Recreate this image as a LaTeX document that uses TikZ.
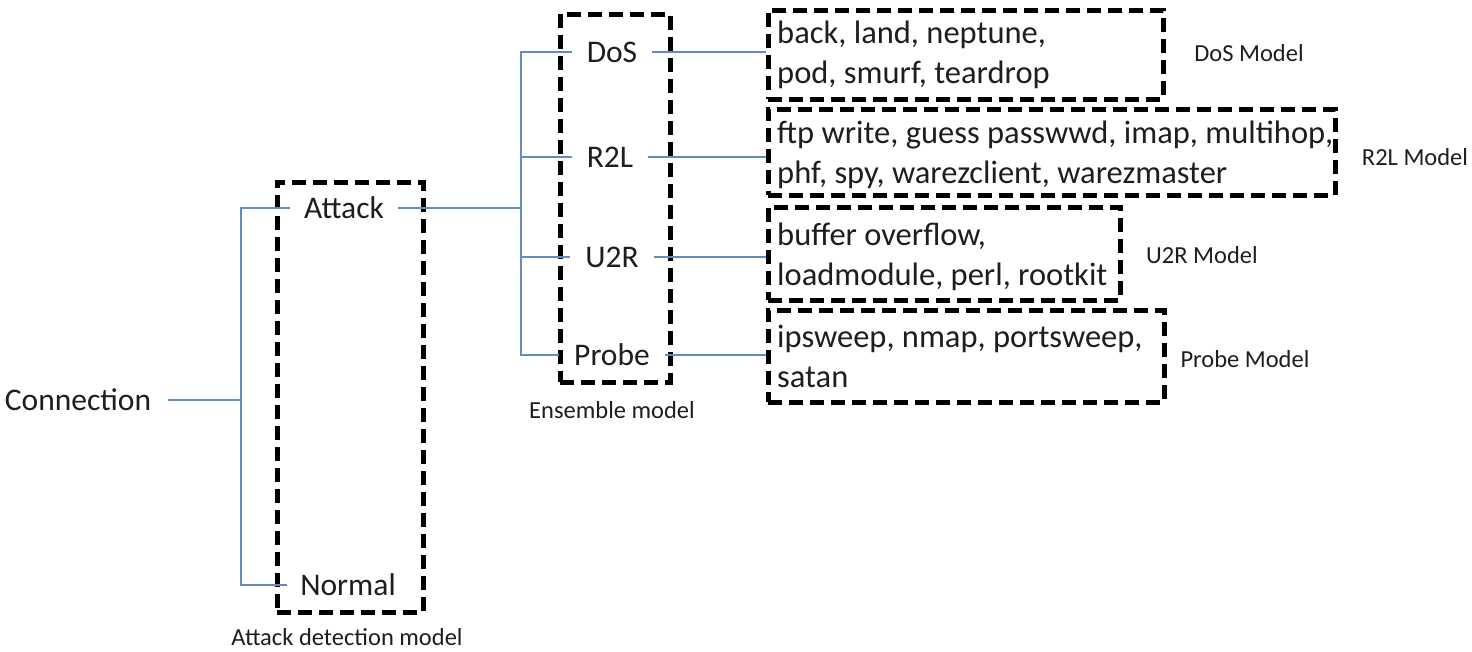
\documentclass[tikz,border=0pt]{standalone}
\usepackage{fontspec}
\setmainfont{Carlito}
\definecolor{linkblue}{RGB}{96,142,196}
\definecolor{inkgray}{RGB}{30,30,30}
\tikzset{
  link/.style={draw=linkblue, line width=1.6pt},
  dbox/.style={draw=black, line width=4.5pt, dash pattern=on 14pt off 7pt, inner sep=0pt},
  word/.style={font=\fontsize{31.5}{40}\selectfont, text=inkgray, inner ysep=0pt, inner xsep=15pt},
  boxtext/.style={font=\fontsize{32.5}{40}\selectfont, text=inkgray, inner sep=0pt, align=left, anchor=west},
  captext/.style={font=\fontsize{24.5}{28}\selectfont, text=inkgray, inner sep=0pt}
}
\begin{document}
\begin{tikzpicture}[x=1pt,y=-1pt]
\useasboundingbox[fill=white] (0,0) rectangle (1472,651);

% stage 1: attack detection
\node[dbox, minimum width=146, minimum height=430, anchor=north west] (adbox) at (275,180) {};
\node[captext] (adcap) at (347,637) {Attack detection model};
\node[word, inner xsep=17pt] (conn) at (78,400) {Connection};
\node[word, inner xsep=14pt] (attack) at (344,208) {Attack};
\node[word, inner xsep=13pt] (normal) at (348,585) {Normal};

% stage 2: ensemble of attack classes
\node[dbox, minimum width=110, minimum height=368, anchor=north west] (ensbox) at (558,12) {};
\node[captext] (enscap) at (612,410) {Ensemble model};
\node[word] (dos) at (612,52) {DoS};
\node[word] (r2l) at (610,157) {R2L};
\node[word] (u2r) at (612,257) {U2R};
\node[word] (probe) at (612,355) {Probe};

% stage 3: per-class models
\node[dbox, minimum width=395, minimum height=89, anchor=north west] (dosbox) at (766,8) {};
\node[boxtext] (dostxt) at ([xshift=11pt]dosbox.west) {back, land, neptune,\\pod, smurf, teardrop};
\node[captext] (doscap) at (1249,53) {DoS Model};

\node[dbox, minimum width=567, minimum height=86, anchor=north west] (r2lbox) at (766,107) {};
\node[boxtext] (r2ltxt) at ([xshift=11pt,yshift=-2.5pt]r2lbox.west) {ftp write, guess passwwd, imap, multihop,\\phf, spy, warezclient, warezmaster};
\node[captext] (r2lcap) at (1415,157) {R2L Model};

\node[dbox, minimum width=352, minimum height=93, anchor=north west] (u2rbox) at (766,205) {};
\node[boxtext] (u2rtxt) at ([xshift=11pt,yshift=-3pt]u2rbox.west) {buffer overflow,\\loadmodule, perl, rootkit};
\node[captext] (u2rcap) at (1202,255) {U2R Model};

\node[dbox, minimum width=396, minimum height=92, anchor=north west] (probebox) at (766,308) {};
\node[boxtext] (probetxt) at ([xshift=11pt]probebox.west) {ipsweep, nmap, portsweep,\\satan};
\node[captext] (probecap) at (1245,359) {Probe Model};

% connectors
\coordinate (j1) at (241,400);
\coordinate (j2) at (521,208);
\draw[link] (conn.east) -- (j1);
\draw[link] (j1) |- (attack.west);
\draw[link] (j1) |- (normal.west);
\draw[link] (attack.east) -- (j2);
\draw[link] (j2) |- (dos.west);
\draw[link] (j2) |- (r2l.west);
\draw[link] (j2) |- (u2r.west);
\draw[link] (j2) |- (probe.west);
\draw[link] (dos.east) -- (dos.east -| dosbox.west);
\draw[link] (r2l.east) -- (r2l.east -| r2lbox.west);
\draw[link] (u2r.east) -- (u2r.east -| u2rbox.west);
\draw[link] (probe.east) -- (probe.east -| probebox.west);
\end{tikzpicture}
\end{document}
